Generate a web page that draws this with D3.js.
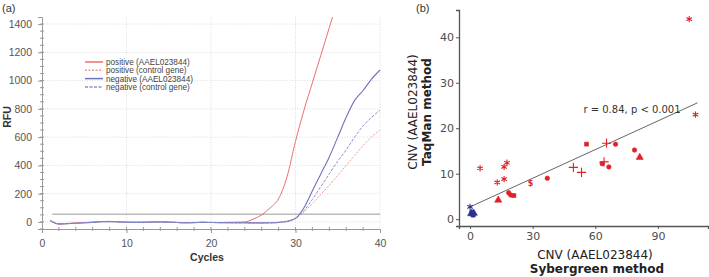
<!DOCTYPE html>
<html>
<head>
<meta charset="utf-8">
<script src="https://cdn.jsdelivr.net/npm/d3@7"></script>
<style>
	body { margin: 0; background: #fff; }
	svg { display: block; }
</style>
</head>
<body>
<svg id="fig" width="709" height="277"></svg>
<script>
// ---- panel (a) data: RFU per cycle ----
var cycles = [1,2,3,4,5,6,7,8,9,10,11,12,13,14,15,16,17,18,19,20,21,22,23,24,25,26,27,28,29,30,31,32,33,34,35,36,37,38,39,40];
var posTarget = [10,-15,-12,-8,-5,-2,3,4,2,-1,-3,-2,0,1,-1,-3,-6,-4,-2,-3,-4,-3,-2,0,20,50,100,165,320,570,790,985,1180,1375,1570];
var posControl = [8,-14,-11,-8,-5,-2,2,3,1,-1,-3,-2,-1,0,-2,-4,-6,-4,-3,-4,-5,-5,-6,-6,-6,-7,-6,-4,2,25,70,130,195,260,330,400,470,540,600,650];
var negTarget = [9,-14,-12,-9,-6,-3,1,2,0,-2,-3,-3,-1,0,-2,-4,-6,-5,-3,-4,-5,-5,-6,-6,-7,-7,-6,-3,5,25,100,220,340,460,600,740,860,930,1010,1075];
var negControl = [8,-13,-11,-9,-6,-3,1,2,0,-2,-3,-3,-1,0,-2,-4,-6,-5,-3,-4,-5,-6,-7,-7,-8,-8,-7,-4,3,25,80,160,250,340,430,510,600,680,740,790];
var threshold = 55;
var seriesNames = ["positive (AAEL023844)", "positive (control gene)", "negative (AAEL023844)", "negative (control gene)"];
var xTicksA = [0,10,20,30,40];
var yTicksA = [0,200,400,600,800,1000,1200,1400];

// ---- panel (b) data: CNV by two methods ----
var sybrX = [105,108,4.8,16.3,17.7,13,16.3,29,37,13.5,18.5,19.5,21,49.5,53.4,55.8,65.4,69.7,78.8,81.3,63.3,64.2,66.5,0,0.5,1.2,1.8,0.8,1.5];
var taqY = [44,23,11.2,11.5,12.4,8.1,8.8,7.9,9.0,4.2,5.8,5.3,5.2,11.4,10.3,16.5,16.7,16.5,15.2,13.6,12.2,12.6,11.5,2.7,1.2,1.0,1.3,1.6,0.9];
var pointShape = ["ast","ast","ast","ast","ast","ast","ast","dollar","circle","tri","circle","circle","square","plus","plus","square","plus","circle","circle","tri","circle","plus","circle","ast","tri","circle","tri","circle","square"];
var pointGroup = ["pos","pos","pos","pos","pos","pos","pos","pos","pos","pos","pos","pos","pos","pos","pos","pos","pos","pos","pos","pos","pos","pos","pos","neg","neg","neg","neg","neg","neg"];
var fitLine = [[0,2.7],[109,25.6]];
var xTicksB = [0,30,60,90];
var yTicksB = [0,10,20,30,40];

var svg = d3.select("#fig");

///////////////////////////
// panel (a) - amplification curves
///////////////////////////
var xA = d3.scaleLinear().domain([0,40]).range([42,380]);
var yA = d3.scaleLinear().domain([-50,1450]).range([229,17]);

var gA = svg.append("g").attr("font-family", "Liberation Sans, Arial, sans-serif");

svg.append("defs").append("clipPath").attr("id", "clipA")
	.append("rect").attr("x", 42).attr("y", 17).attr("width", 340).attr("height", 212);

// grid
gA.selectAll(".hgrid").data(yTicksA).enter().append("line")
	.attr("x1", xA(0)).attr("x2", xA(40))
	.attr("y1", function(d){ return yA(d); }).attr("y2", function(d){ return yA(d); })
	.attr("stroke", "#d4d4d4").attr("stroke-width", 0.8).attr("stroke-dasharray", "1,1.5");
gA.selectAll(".vgrid").data(xTicksA.slice(1)).enter().append("line")
	.attr("x1", function(d){ return xA(d); }).attr("x2", function(d){ return xA(d); })
	.attr("y1", yA(1450)).attr("y2", yA(-50))
	.attr("stroke", "#d4d4d4").attr("stroke-width", 0.8).attr("stroke-dasharray", "1,1.5");

// axes
var axisBottomA = d3.axisBottom(xA).tickValues(xTicksA).tickSize(4).tickPadding(7);
var axisLeftA = d3.axisLeft(yA).tickValues(yTicksA).tickFormat(d3.format("d")).tickSize(4).tickPadding(6);
var gxA = gA.append("g").attr("transform", "translate(0,229)").call(axisBottomA);
var gyA = gA.append("g").attr("transform", "translate(42,0)").call(axisLeftA);
[gxA, gyA].forEach(function(g){
	g.select(".domain").attr("stroke", "#999");
	g.selectAll(".tick line").attr("stroke", "#999");
	g.selectAll("text").attr("font-size", 10.5).attr("fill", "#555").attr("font-family", "Liberation Sans, Arial, sans-serif");
});
// minor ticks
gxA.selectAll(".minor").data(d3.range(2,40,2)).enter().append("line")
	.attr("x1", function(d){ return xA(d); }).attr("x2", function(d){ return xA(d); })
	.attr("y1", -2).attr("y2", 2).attr("stroke", "#999");
gyA.selectAll(".minor").data(d3.range(-50,1450,50)).enter().append("line")
	.attr("y1", function(d){ return yA(d); }).attr("y2", function(d){ return yA(d); })
	.attr("x1", -2).attr("x2", 2).attr("stroke", "#999");

gA.append("text").text("RFU").attr("transform", "translate(11,117) rotate(-90)")
	.attr("text-anchor", "middle").attr("font-size", 10.5).attr("font-weight", "bold").attr("fill", "#333");
gA.append("text").text("Cycles").attr("x", 207).attr("y", 261)
	.attr("text-anchor", "middle").attr("font-size", 10.5).attr("font-weight", "bold").attr("fill", "#333");
svg.append("text").text("(a)").attr("x", 2).attr("y", 12)
	.attr("font-family", "Liberation Sans, Arial, sans-serif").attr("font-size", 11).attr("fill", "#333");

// threshold
gA.append("line").attr("x1", xA(1.2)).attr("x2", xA(40))
	.attr("y1", yA(threshold)).attr("y2", yA(threshold))
	.attr("stroke", "#9a9a9a").attr("stroke-width", 1);

// curves
var curveStyles = [
	{data: posTarget, color: "#ec6f6f", dash: null, w: 1},
	{data: posControl, color: "#ee9a9a", dash: "2,1.5", w: 1},
	{data: negTarget, color: "#6f72b8", dash: null, w: 1.1},
	{data: negControl, color: "#8d90cc", dash: "3,1.5", w: 1}
];
var lineA = d3.line()
	.x(function(d){ return xA(d[0]); })
	.y(function(d){ return yA(d[1]); })
	.curve(d3.curveMonotoneX);
var curves = gA.append("g").attr("clip-path", "url(#clipA)");
curveStyles.forEach(function(s){
	var pts = s.data.map(function(v,i){ return [cycles[i], v]; });
	curves.append("path").attr("d", lineA(pts)).attr("fill", "none")
		.attr("stroke", s.color).attr("stroke-width", s.w)
		.attr("stroke-dasharray", s.dash);
});

// legend
var leg = gA.append("g").attr("transform", "translate(85,62)");
seriesNames.forEach(function(name, i){
	var s = curveStyles[i];
	leg.append("line").attr("x1", 0).attr("x2", 18).attr("y1", i*8.3).attr("y2", i*8.3)
		.attr("stroke", s.color).attr("stroke-width", 1.5).attr("stroke-dasharray", s.dash);
	leg.append("text").text(name).attr("x", 21).attr("y", i*8.3 + 3)
		.attr("font-size", 8.2).attr("fill", "#444");
});

///////////////////////////
// panel (b) - scatter of CNV
///////////////////////////
var xB = d3.scaleLinear().domain([-5.3,114]).range([459,708]);
var yB = d3.scaleLinear().domain([-1.5,46]).range([226,10]);
var gB = svg.append("g").attr("font-family", "DejaVu Sans, Verdana, sans-serif");

var axisBottomB = d3.axisBottom(xB).tickValues(xTicksB).tickSize(3).tickPadding(3);
var axisLeftB = d3.axisLeft(yB).tickValues(yTicksB).tickSize(3).tickPadding(2);
var gxB = gB.append("g").attr("transform", "translate(0,226)").call(axisBottomB);
var gyB = gB.append("g").attr("transform", "translate(459,0)").call(axisLeftB);
[gxB, gyB].forEach(function(g){
	g.select(".domain").attr("stroke", "#555").attr("stroke-width", 1.3);
	g.selectAll(".tick line").attr("stroke", "#555");
	g.selectAll("text").attr("font-size", 11).attr("fill", "#4d4d4d").attr("font-family", "DejaVu Sans, Verdana, sans-serif");
});

gB.append("text").text("CNV (AAEL023844)").attr("x", 595).attr("y", 259)
	.attr("text-anchor", "middle").attr("font-size", 12).attr("fill", "#222");
gB.append("text").text("Sybergreen method").attr("x", 597).attr("y", 273)
	.attr("text-anchor", "middle").attr("font-size", 12).attr("font-weight", "bold").attr("fill", "#222");
gB.append("text").text("CNV (AAEL023844)").attr("transform", "translate(417,112) rotate(-90)")
	.attr("text-anchor", "middle").attr("font-size", 12).attr("fill", "#222");
gB.append("text").text("TaqMan method").attr("transform", "translate(431,112) rotate(-90)")
	.attr("text-anchor", "middle").attr("font-size", 12).attr("font-weight", "bold").attr("fill", "#222");
svg.append("text").text("(b)").attr("x", 416).attr("y", 12)
	.attr("font-family", "Liberation Sans, Arial, sans-serif").attr("font-size", 11).attr("fill", "#333");

// regression line
gB.append("line")
	.attr("x1", xB(fitLine[0][0])).attr("y1", yB(fitLine[0][1]))
	.attr("x2", xB(fitLine[1][0])).attr("y2", yB(fitLine[1][1]))
	.attr("stroke", "#555").attr("stroke-width", 0.9);
gB.append("text").text("r = 0.84, p < 0.001").attr("x", 632).attr("y", 113)
	.attr("text-anchor", "middle").attr("font-size", 10).attr("fill", "#333");

// points
var symbolTypes = {ast: d3.symbolAsterisk, plus: d3.symbolPlus, tri: d3.symbolTriangle, square: d3.symbolSquare, circle: d3.symbolCircle};
var symbolSize = {ast: 28, plus: 30, tri: 22, square: 16, circle: 16};
var groupColor = {pos: "#e0202a", neg: "#2e3192"};
var pts = sybrX.map(function(x,i){ return {x: x, y: taqY[i], shape: pointShape[i], group: pointGroup[i]}; });

gB.selectAll(".pt").data(pts.filter(function(d){ return d.shape != "dollar"; })).enter()
	.append("path").attr("class", "pt")
	.attr("transform", function(d){ return "translate(" + xB(d.x) + "," + yB(d.y) + ")"; })
	.attr("d", function(d){ return d3.symbol(symbolTypes[d.shape], symbolSize[d.shape])(); })
	.attr("fill", function(d){ return (d.shape == "ast" || d.shape == "plus") ? "none" : groupColor[d.group]; })
	.attr("stroke", function(d){ return groupColor[d.group]; })
	.attr("stroke-width", function(d){ return (d.shape == "ast" || d.shape == "plus") ? 1.1 : 0.6; });

gB.selectAll(".dol").data(pts.filter(function(d){ return d.shape == "dollar"; })).enter()
	.append("text").attr("class", "dol").text("$")
	.attr("x", function(d){ return xB(d.x); }).attr("y", function(d){ return yB(d.y) + 3; })
	.attr("text-anchor", "middle").attr("font-size", 8).attr("font-weight", "bold")
	.attr("fill", function(d){ return groupColor[d.group]; });
</script>
</body>
</html>
